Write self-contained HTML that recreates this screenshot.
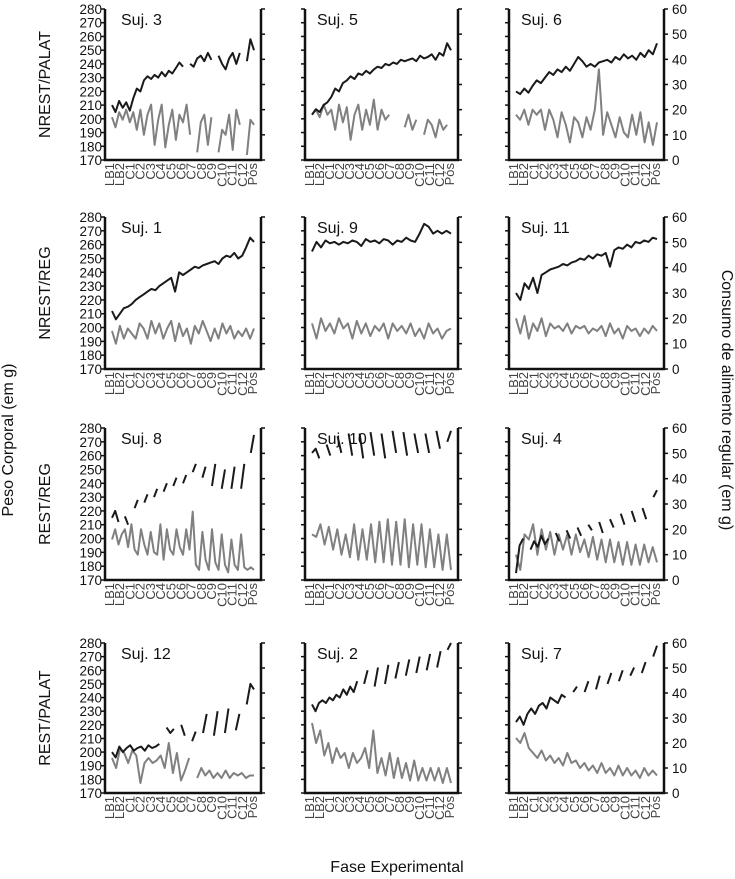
<!DOCTYPE html>
<html><head><meta charset="utf-8">
<style>
html,body{margin:0;padding:0;background:#fff;}
svg{display:block;font-family:"Liberation Sans",sans-serif;}
.tl{font-size:13.5px;fill:#111;font-family:"Liberation Sans Narrow","Liberation Sans",sans-serif;}
.xl{font-size:13px;fill:#444;font-family:"Liberation Sans Narrow","Liberation Sans",sans-serif;}
.ttl{font-size:16px;fill:#111;}
.big{font-size:16px;fill:#111;}
</style></head>
<body>
<svg id="chart" width="735" height="879" viewBox="0 0 735 879"></svg>
<script>
const phases = ["LB1","LB2","C1","C2","C3","C4","C5","C6","C7","C8","C9","C10","C11","C12","Pós"];
const weightTicks = [170,180,190,200,210,220,230,240,250,260,270,280];
const foodTicks = [0,10,20,30,40,50,60];
const rowLabels = ["NREST/PALAT","NREST/REG","REST/REG","REST/PALAT"];
const subjects = ["Suj. 3","Suj. 5","Suj. 6","Suj. 1","Suj. 9","Suj. 11","Suj. 8","Suj. 10","Suj. 4","Suj. 12","Suj. 2","Suj. 7"];
const w3=[210,205,213,208,212,206,215,222,220,228,231,229,232,230,234,231,235,233,237,241,238,null,240,238,244,246,242,248,243,null,246,240,236,244,248,240,248,null,242,258,250];
const f3=[17,13,19,16,20,15,19,12,20,10,18,22,6,16,22,5,14,20,8,18,15,22,10,null,3,15,18,6,17,null,3,12,10,18,4,20,14,null,2,16,14];
const w5=[203,207,205,210,212,216,222,220,226,228,231,229,233,232,235,233,236,238,237,240,239,241,240,243,242,243,244,242,246,244,245,247,243,248,246,255,250];
const f5=[18,20,17,22,18,20,12,22,15,21,8,18,22,12,20,14,24,12,20,16,18,null,16,null,13,18,12,16,null,10,16,14,9,16,12,14,null];
const w6=[220,218,222,219,224,228,226,230,234,232,236,234,238,235,240,245,242,238,240,238,241,242,243,241,245,243,247,244,246,243,248,245,250,247,255];
const f6=[18,16,20,14,20,18,20,12,20,16,9,19,14,7,17,15,9,17,12,20,36,10,19,14,9,17,11,9,18,10,19,7,15,6,15];
const w1=[212,206,210,214,215,217,220,222,224,226,228,227,230,232,234,236,226,240,238,240,242,244,243,245,246,247,248,246,250,252,251,254,250,252,258,265,262];
const f1=[15,10,17,12,16,14,12,18,16,12,19,14,18,12,16,19,11,18,13,16,10,17,14,19,15,11,16,12,18,14,17,12,15,13,16,12,16];
const w9=[255,262,258,263,261,262,260,262,261,263,262,259,264,262,263,261,264,263,260,263,262,265,263,262,268,275,273,268,270,268,270,268];
const f9=[18,12,20,15,18,14,20,16,18,12,19,14,18,13,17,15,18,12,18,15,17,14,18,13,16,12,18,14,16,12,15,16];
const w11=[225,220,232,228,236,225,238,240,242,243,244,246,245,247,248,250,249,252,250,253,252,254,244,256,258,257,260,258,262,261,263,262,265,264];
const f11=[20,14,21,12,18,15,20,13,18,16,17,15,18,14,17,16,17,14,16,15,17,13,18,14,16,12,17,15,16,13,16,14,17,15];
const w8=[215,220,212,null,216,210,null,222,228,null,226,232,null,230,236,null,234,240,null,238,244,null,240,246,null,248,254,null,244,252,null,238,254,null,236,250,null,236,252,null,236,254,null,262,275];
const f8=[16,20,14,18,20,13,22,12,10,20,14,10,19,11,10,22,8,20,12,10,20,13,10,20,12,27,6,4,19,8,4,20,7,4,18,6,3,16,6,4,18,5,4,5,4];
const w10=[262,265,258,null,268,260,null,274,262,null,276,260,null,276,258,null,277,260,null,276,258,null,278,262,null,277,260,null,276,262,null,276,262,null,278,265,null,270,278];
const f10=[18,17,22,14,21,12,20,10,18,9,22,8,20,8,22,7,23,7,24,6,23,6,24,5,22,6,22,5,20,5,18,4,18,4];
const w4=[175,195,200,null,192,198,194,202,196,200,null,204,198,null,206,200,null,208,202,null,210,206,null,212,204,null,214,208,null,218,210,null,220,212,null,222,214,null,230,235];
const f4=[10,4,18,16,22,10,20,12,19,10,18,12,18,10,18,11,16,9,17,8,16,7,16,7,15,6,15,6,14,6,14,7,13,7];
const w12=[200,196,204,200,203,205,201,203,204,201,205,203,204,206,null,218,214,217,null,220,212,null,208,215,null,214,228,null,212,230,null,214,232,null,216,228,null,235,250,246];
const f12=[14,10,18,16,12,17,15,4,12,14,12,13,15,10,20,8,16,5,9,14,null,6,10,7,9,6,8,6,9,6,8,7,8,6,7,7];
const w2=[235,230,236,238,236,240,238,242,240,246,242,248,244,252,null,250,260,null,248,262,null,250,264,null,254,266,null,256,268,null,258,270,null,260,272,null,262,274,null,275,280];
const f2=[28,20,25,15,20,12,18,14,16,10,16,12,14,18,10,25,8,14,7,16,6,14,6,12,5,13,5,10,5,10,5,10,4,10,4];
const w7=[222,226,220,228,232,228,234,236,232,240,238,236,242,240,null,244,248,null,244,252,null,246,256,null,250,258,null,252,260,null,256,262,null,258,266,null,270,278];
const f7=[22,20,24,18,16,14,17,13,15,12,14,11,16,12,13,10,12,9,11,8,12,8,10,7,11,7,10,7,9,6,10,7,9,7];
const weightSeries=[w3,w5,w6,w1,w9,w11,w8,w10,w4,w12,w2,w7];
const foodSeries=[f3,f5,f6,f1,f9,f11,f8,f10,f4,f12,f2,f7];

const NS="http://www.w3.org/2000/svg";
const svg=document.getElementById('chart');
function mk(tag,attrs,parent){const e=document.createElementNS(NS,tag);for(const k in attrs)e.setAttribute(k,attrs[k]);(parent||svg).appendChild(e);return e;}
const cols=[[105,261],[305,458],[509,664]];
const rows=[[9,160],[217,369],[428,580],[643,793]];

function linePath(vals,xf,yf){let d="",pen=false;vals.forEach((v,i)=>{if(v===null){pen=false;return;}d+=(pen?"L":"M")+xf(i,vals.length).toFixed(1)+" "+yf(v).toFixed(1)+" ";pen=true;});return d;}

for(let r=0;r<4;r++){
  const rl=mk('text',{x:0,y:0,class:'big',transform:`translate(50 ${(rows[r][0]+rows[r][1])/2}) rotate(-90)`,'text-anchor':'middle'});
  
  
  rl.textContent=rowLabels[r];
  for(let c=0;c<3;c++){
    const k=r*3+c;const [L,R]=cols[c];const [T,B]=rows[r];const H=B-T;
    const g=mk('g',{});
    
    
    const yW=v=>B-(v-170)/110*H;
    const yF=v=>B-v/60*H;
    const xf=(i,n)=>L+7+i/(n-1)*(R-L-14);
    const ax=mk('path',{d:`M${L} ${T} L${L} ${B} L${R} ${B} L${R} ${T}`,stroke:'#111','stroke-width':2.5,fill:'none'},g);
    
    
    weightTicks.forEach(t=>{
      mk('line',{x1:L-4,x2:L,y1:yW(t),y2:yW(t),stroke:'#111','stroke-width':1.5},g);
      if(c===0){const tx=mk('text',{x:L-3,y:yW(t)+5,class:'tl','text-anchor':'end'},g);
        
        
        tx.textContent=t;}
    });
    foodTicks.forEach(t=>{
      mk('line',{x1:R,x2:R+4,y1:yF(t),y2:yF(t),stroke:'#111','stroke-width':1.5},g);
      if(c===2){const tx=mk('text',{x:R+8,y:yF(t)+5,class:'tl'},g);
        
        
        tx.textContent=t;}
    });
    phases.forEach((p,i)=>{
      const x=L+4+i/(phases.length-1)*(R-L-13);
      const tx=mk('text',{x:0,y:0,class:'xl','text-anchor':'end',transform:`translate(${x+5} ${B+3}) rotate(-90)`},g);
      
      
      tx.textContent=p;
    });
    const fp=mk('path',{d:linePath(foodSeries[k],xf,yF),stroke:'#808080','stroke-width':2,fill:'none','stroke-linejoin':'round'},g);
    
    
    const wp=mk('path',{d:linePath(weightSeries[k],xf,yW),stroke:'#1a1a1a','stroke-width':2,fill:'none','stroke-linejoin':'round'},g);
    
    
    const st=mk('text',{x:L+(c===0?16:12),y:T+16,class:'ttl'},g);
    
    
    st.textContent=subjects[k];
  }
}
const yt=mk('text',{x:0,y:0,class:'big','text-anchor':'middle',transform:'translate(13 440) rotate(-90)'});


yt.textContent='Peso Corporal (em g)';
const y2=mk('text',{x:0,y:0,class:'big','text-anchor':'middle',transform:'translate(722 400) rotate(90)'});


y2.textContent='Consumo de alimento regular (em g)';
const xt=mk('text',{x:397,y:872,class:'big','text-anchor':'middle'});


xt.textContent='Fase Experimental';
</script>
</body></html>
